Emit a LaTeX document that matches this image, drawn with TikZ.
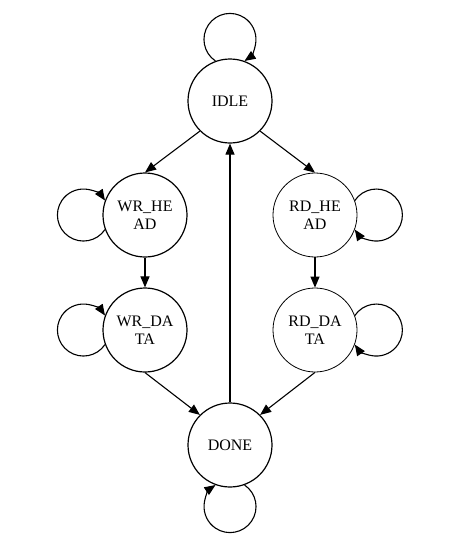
\documentclass[tikz,border=0pt]{standalone}
\usepackage{fontspec}
\setmainfont{Liberation Serif}
\usetikzlibrary{arrows.meta}
\begin{document}
\begin{tikzpicture}[x=1pt,y=-1pt,
  state/.style={circle,draw,line width=1.2pt,minimum size=84pt,inner sep=0pt,align=center,font=\fontsize{16}{18}\selectfont},
  thinstate/.style={state,line width=0.8pt},
  edge/.style={line width=1.1pt,-{Triangle[length=11pt,width=9pt]}},
  selfloop/.style={edge}]
\useasboundingbox (0,0) rectangle (450,547);
\node[state] (IDLE) at (230,101) {IDLE};
\node[state] (WRH) at (145,215) {WR\_HE\\AD};
\node[state] (WRD) at (145,330) {WR\_DA\\TA};
\node[thinstate] (RDH) at (315,215) {RD\_HE\\AD};
\node[thinstate] (RDD) at (315,330) {RD\_DA\\TA};
\node[state] (DONE) at (230,445) {DONE};
\draw[edge] (IDLE.225) -- (WRH.north);
\draw[edge] (IDLE.-45) -- (RDH.north);
\draw[edge] (WRH) -- (WRD);
\draw[edge] (RDH) -- (RDD);
\draw[edge] (WRD.south) -- (DONE.135);
\draw[edge] (RDD.south) -- (DONE.45);
\draw[edge] (DONE) -- (IDLE);
\draw[selfloop] (IDLE.110.3) arc[start angle=124, delta angle=292, radius=26];
\draw[selfloop] (WRH.200.3) arc[start angle=34, delta angle=292, radius=26];
\draw[selfloop] (WRD.200.3) arc[start angle=34, delta angle=292, radius=26];
\draw[selfloop] (RDH.20.3) arc[start angle=214, delta angle=292, radius=26];
\draw[selfloop] (RDD.20.3) arc[start angle=214, delta angle=292, radius=26];
\draw[selfloop] (DONE.290.3) arc[start angle=-56, delta angle=292, radius=26];
\end{tikzpicture}
\end{document}
